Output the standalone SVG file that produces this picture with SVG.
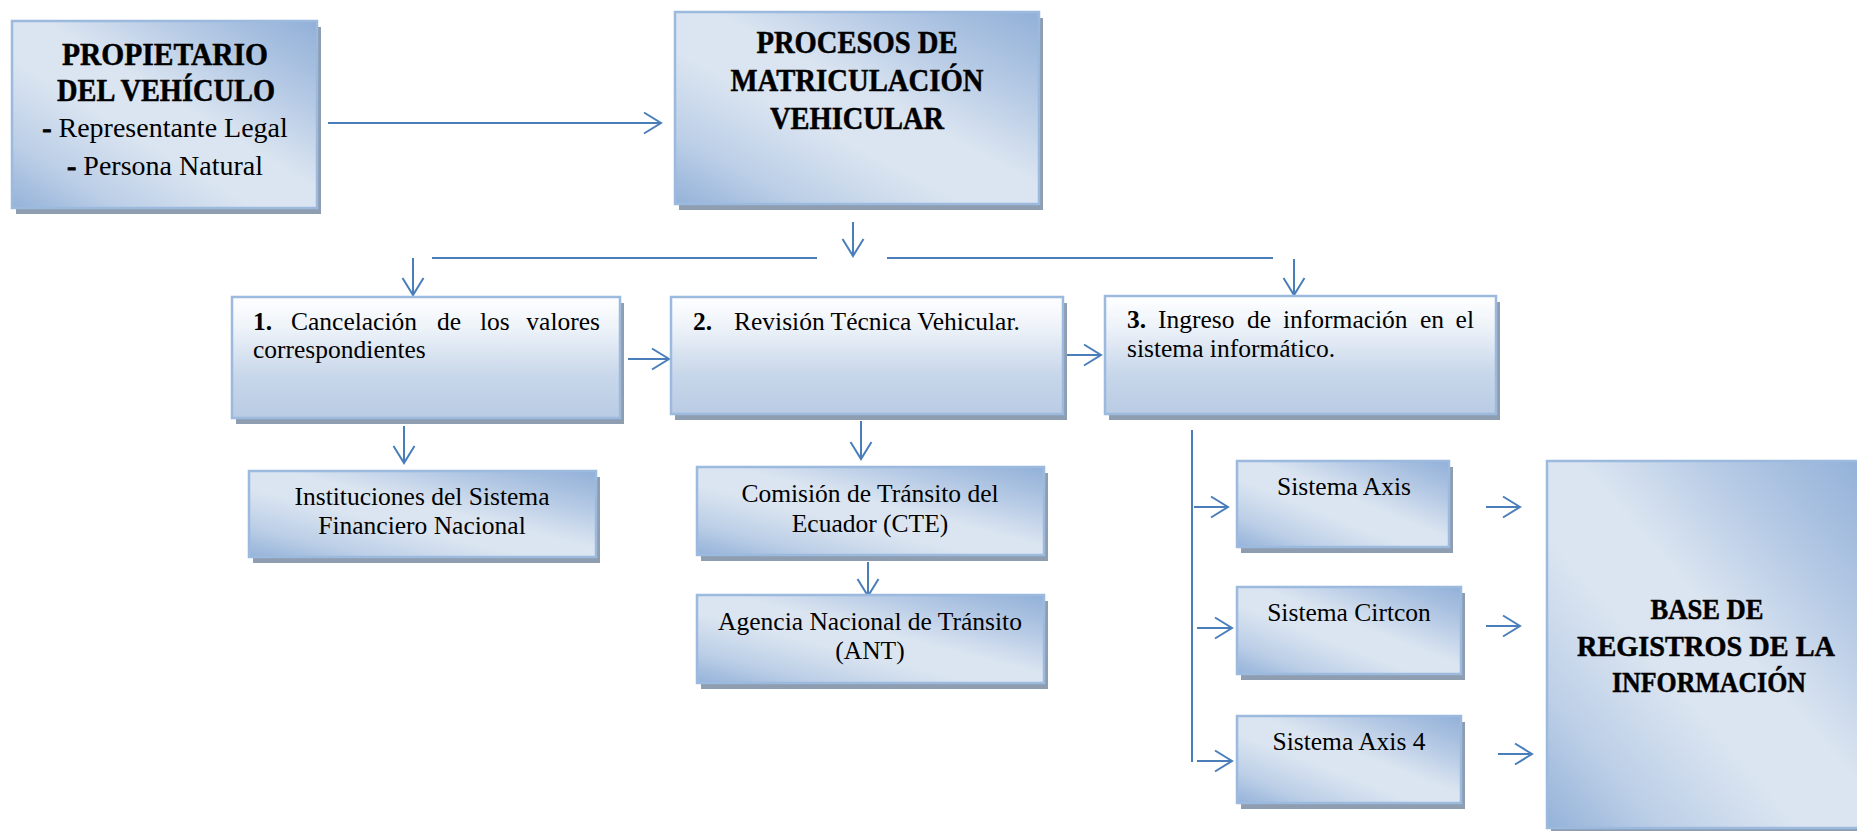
<svg xmlns="http://www.w3.org/2000/svg" width="1857" height="831" viewBox="0 0 1857 831">
<defs>
<linearGradient id="gDiag" x1="1" y1="0" x2="0" y2="1">
<stop offset="0" stop-color="#91b0d8"/>
<stop offset="0.22" stop-color="#b3c8e4"/>
<stop offset="0.45" stop-color="#dbe5f1"/>
<stop offset="0.6" stop-color="#dbe5f1"/>
<stop offset="0.82" stop-color="#bccfe7"/>
<stop offset="1" stop-color="#94b2d9"/>
</linearGradient>
<linearGradient id="gVert" x1="0" y1="0" x2="0" y2="1">
<stop offset="0" stop-color="#ffffff"/>
<stop offset="0.25" stop-color="#eef3f9"/>
<stop offset="0.65" stop-color="#c8d7ea"/>
<stop offset="1" stop-color="#b9cce4"/>
</linearGradient>
<marker id="arr" markerUnits="userSpaceOnUse" markerWidth="40" markerHeight="40" viewBox="-20 -20 40 40" refX="0" refY="0" orient="auto" overflow="visible">
<path d="M-17,-10.5 L0,0 L-17,10.5" fill="none" stroke="#4a7ebb" stroke-width="2"/>
</marker>
<style>
.shadow{fill:#8f9db0;}
.box{stroke:#9cb9de;stroke-width:2.5;}
.diag{fill:url(#gDiag);}
.vert{fill:url(#gVert);}
.title{font-family:"Liberation Serif","Times New Roman",serif;font-weight:bold;fill:#000;stroke:#000;stroke-width:0.5;text-anchor:middle;}
.txt{font-family:"Liberation Serif","Times New Roman",serif;fill:#000;}
.mid{text-anchor:middle;}
.end{text-anchor:end;}
.b{font-weight:bold;}
.dash{font-weight:bold;stroke:#000;stroke-width:0.8;}
.con{fill:none;stroke:#4a7ebb;stroke-width:2;}
.arrow{marker-end:url(#arr);}
</style>
</defs>
<rect width="1857" height="831" fill="#ffffff"/>

<g id="connectors">
<path class="con arrow" d="M328,123 H661"/>
<path class="con arrow" d="M853,222 V256"/>
<path class="con" d="M432,258 H817"/>
<path class="con" d="M887,258 H1273"/>
<path class="con arrow" d="M413,258 V295"/>
<path class="con arrow" d="M1294,259 V295"/>
<path class="con arrow" d="M628,359 H669"/>
<path class="con arrow" d="M1065,355 H1101"/>
<path class="con arrow" d="M404,426 V463"/>
<path class="con arrow" d="M861,421 V459"/>
<path class="con arrow" d="M868,562 V596"/>
<path class="con" d="M1192,430 V762"/>
<path class="con arrow" d="M1194,507 H1228"/>
<path class="con arrow" d="M1197,628 H1232"/>
<path class="con arrow" d="M1197,761 H1232"/>
<path class="con arrow" d="M1486,507 H1520"/>
<path class="con arrow" d="M1486,626 H1520"/>
<path class="con arrow" d="M1498,754 H1532"/>
</g>

<g id="propietario">
<rect class="shadow" x="16" y="27" width="305" height="187"/>
<rect class="box diag" x="12" y="21" width="305" height="187"/>
<text class="title" x="165" y="65" font-size="31" textLength="206" lengthAdjust="spacingAndGlyphs">PROPIETARIO</text>
<text class="title" x="166" y="101" font-size="31" textLength="218" lengthAdjust="spacingAndGlyphs">DEL VEHÍCULO</text>
<text class="txt mid" x="165" y="137" font-size="28"><tspan class="dash">-</tspan> Representante Legal</text>
<text class="txt mid" x="165" y="175" font-size="28"><tspan class="dash">-</tspan> Persona Natural</text>
</g>

<g id="procesos">
<rect class="shadow" x="679" y="18" width="364" height="192"/>
<rect class="box diag" x="675" y="12" width="364" height="192"/>
<text class="title" x="857" y="53" font-size="31" textLength="201" lengthAdjust="spacingAndGlyphs">PROCESOS DE</text>
<text class="title" x="857" y="91" font-size="31" textLength="253" lengthAdjust="spacingAndGlyphs">MATRICULACIÓN</text>
<text class="title" x="857" y="129" font-size="31" textLength="174" lengthAdjust="spacingAndGlyphs">VEHICULAR</text>
</g>

<g id="paso1">
<rect class="shadow" x="236" y="303" width="388" height="121"/>
<rect class="box vert" x="232" y="297" width="388" height="121"/>
<text class="txt" y="330" font-size="25.5"><tspan class="b" x="253">1.</tspan><tspan x="291">Cancelación</tspan><tspan x="437">de</tspan><tspan x="480">los</tspan></text>
<text class="txt end" x="600" y="330" font-size="25.5">valores</text>
<text class="txt" x="253" y="358" font-size="25.5">correspondientes</text>
</g>

<g id="paso2">
<rect class="shadow" x="675" y="303" width="392" height="117"/>
<rect class="box vert" x="671" y="297" width="392" height="117"/>
<text class="txt" y="330" font-size="25.5"><tspan class="b" x="693">2.</tspan><tspan x="734">Revisión Técnica Vehicular.</tspan></text>
</g>

<g id="paso3">
<rect class="shadow" x="1109" y="302" width="391" height="118"/>
<rect class="box vert" x="1105" y="296" width="391" height="118"/>
<text class="txt" y="328" font-size="25.5"><tspan class="b" x="1127">3.</tspan><tspan x="1158">Ingreso</tspan><tspan x="1247">de</tspan><tspan x="1283">información</tspan><tspan x="1420">en</tspan></text>
<text class="txt end" x="1474" y="328" font-size="25.5">el</text>
<text class="txt" x="1127" y="357" font-size="25.5">sistema informático.</text>
</g>

<g id="instituciones">
<rect class="shadow" x="253" y="477" width="347" height="86"/>
<rect class="box diag" x="249" y="471" width="347" height="86"/>
<text class="txt mid" x="422" y="505" font-size="25.5">Instituciones del Sistema</text>
<text class="txt mid" x="422" y="534" font-size="25.5">Financiero Nacional</text>
</g>

<g id="cte">
<rect class="shadow" x="701" y="473" width="347" height="88"/>
<rect class="box diag" x="697" y="467" width="347" height="88"/>
<text class="txt mid" x="870" y="502" font-size="25.5">Comisión de Tránsito del</text>
<text class="txt mid" x="870" y="532" font-size="25.5">Ecuador (CTE)</text>
</g>

<g id="ant">
<rect class="shadow" x="701" y="601" width="347" height="88"/>
<rect class="box diag" x="697" y="595" width="347" height="88"/>
<text class="txt mid" x="870" y="630" font-size="25.5">Agencia Nacional de Tránsito</text>
<text class="txt mid" x="870" y="659" font-size="25.5">(ANT)</text>
</g>

<g id="axis">
<rect class="shadow" x="1241" y="467" width="212" height="86"/>
<rect class="box diag" x="1237" y="461" width="212" height="86"/>
<text class="txt mid" x="1344" y="495" font-size="25.5">Sistema Axis</text>
</g>

<g id="cirtcon">
<rect class="shadow" x="1241" y="593" width="224" height="87"/>
<rect class="box diag" x="1237" y="587" width="224" height="87"/>
<text class="txt mid" x="1349" y="621" font-size="25.5">Sistema Cirtcon</text>
</g>

<g id="axis4">
<rect class="shadow" x="1241" y="722" width="224" height="87"/>
<rect class="box diag" x="1237" y="716" width="224" height="87"/>
<text class="txt mid" x="1349" y="750" font-size="25.5">Sistema Axis 4</text>
</g>

<g id="base">
<rect class="shadow" x="1551" y="467" width="318" height="367"/>
<rect class="box diag" x="1547" y="461" width="318" height="367"/>
<text class="title" x="1707" y="619" font-size="30" textLength="113" lengthAdjust="spacingAndGlyphs">BASE DE</text>
<text class="title" x="1706" y="656" font-size="30" textLength="258" lengthAdjust="spacingAndGlyphs">REGISTROS DE LA</text>
<text class="title" x="1709" y="692" font-size="30" textLength="194" lengthAdjust="spacingAndGlyphs">INFORMACIÓN</text>
</g>
</svg>
